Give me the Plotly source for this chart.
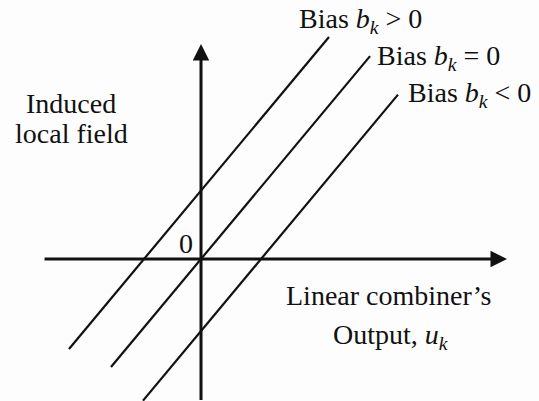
import plotly.graph_objects as go

# ---- data (math units: horizontal 1 unit = u, vertical 1 unit = v) ----
bias_names = ["Bias <i>b</i><sub><i>k</i></sub> &gt; 0",
              "Bias <i>b</i><sub><i>k</i></sub> = 0",
              "Bias <i>b</i><sub><i>k</i></sub> &lt; 0"]
bias_values = [0.95, 0.0, -1.0]
u_start = [-2.2, -1.5, -0.967]
u_end = [2.133, 2.817, 3.283]
slope = 1.0

x_axis_extent = [-2.633, 5.1]
y_axis_extent = [-1.98, 2.986]

W, H = 539, 401
x_range = [-3.35, 5.633]
y_range = [-1.972, 3.597]

FONT = "Liberation Serif, Times New Roman, serif"
INK = "#111111"
FS = 28

fig = go.Figure()
for b, u0, u1 in zip(bias_values, u_start, u_end):
    us = [u0, u1]
    vs = [slope * u + b for u in us]
    fig.add_trace(go.Scatter(x=us, y=vs, mode="lines",
                             line=dict(color=INK, width=2.2),
                             showlegend=False, hoverinfo="skip"))

# axes with arrows
fig.add_annotation(x=x_axis_extent[1], y=0, ax=x_axis_extent[0], ay=0,
                   xref="x", yref="y", axref="x", ayref="y", text="",
                   showarrow=True, arrowhead=2, arrowsize=1.1, arrowwidth=3,
                   arrowcolor=INK)
fig.add_annotation(x=0, y=y_axis_extent[1], ax=0, ay=y_axis_extent[0],
                   xref="x", yref="y", axref="x", ayref="y", text="",
                   showarrow=True, arrowhead=2, arrowsize=1.1, arrowwidth=3,
                   arrowcolor=INK)

def px(x, y):
    return x / W, 1 - y / H

def label(text, x, y, xanchor="left", align="left"):
    X, Y = px(x, y)
    fig.add_annotation(x=X, y=Y, xref="paper", yref="paper", text=text,
                       showarrow=False, xanchor=xanchor, yanchor="middle",
                       align=align,
                       font=dict(family=FONT, size=FS, color=INK))

label(bias_names[0], 297, 21)
label(bias_names[1], 375, 58)
label(bias_names[2], 406, 94)
label("Induced", 71, 103, xanchor="center", align="center")
label("local field", 71, 133, xanchor="center", align="center")
label("0", 186, 243, xanchor="center", align="center")
label("Linear combiner’s", 389, 295, xanchor="center", align="center")
label("Output, <i>u</i><sub><i>k</i></sub>", 390, 336, xanchor="center", align="center")

fig.update_layout(width=W, height=H, margin=dict(l=0, r=0, t=0, b=0),
                  paper_bgcolor="#fdfdfd", plot_bgcolor="#fdfdfd")
fig.update_xaxes(range=x_range, visible=False, fixedrange=True)
fig.update_yaxes(range=y_range, visible=False, fixedrange=True)

fig.write_html("out.html", config={"displayModeBar": False},
               post_script="document.body.style.margin='0';document.body.style.background='#fdfdfd';")
